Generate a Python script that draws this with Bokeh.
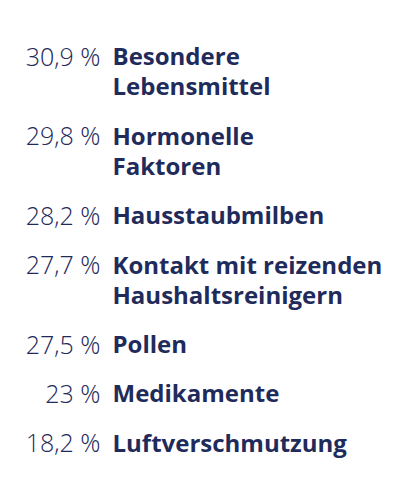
from bokeh.plotting import figure
from bokeh.models import ColumnDataSource, Range1d
from bokeh.core.properties import value
from bokeh.embed import file_html
from bokeh.resources import INLINE

# Anteile in Prozent und die zugehoerigen Ausloeser
werte = [30.9, 29.8, 28.2, 27.7, 27.5, 23, 18.2]
ausloeser = [
    ["Besondere", "Lebensmittel"],
    ["Hormonelle", "Faktoren"],
    ["Hausstaubmilben"],
    ["Kontakt mit reizenden", "Haushaltsreinigern"],
    ["Pollen"],
    ["Medikamente"],
    ["Luftverschmutzung"],
]

farbe = "#1f2b5b"
W, H = 392, 484

# Layout (Pixel auf der Seite)
start = 55      # Grundlinie erste Zeile
abstand = 49.3  # Abstand zwischen Eintraegen
zeile = 30.3    # Zeilenabstand innerhalb eines Eintrags


def fmt(v):
    s = ("%.1f" % v).replace(".", ",")
    if s.endswith(",0"):
        s = s[:-2]
    return s + " %"


pct_x, pct_y, pct_t = [], [], []
lab_x, lab_y, lab_t = [], [], []
y = start
for v, lines in zip(werte, ausloeser):
    pct_x.append(100)
    pct_y.append(y)
    pct_t.append(fmt(v))
    for i, line in enumerate(lines):
        lab_x.append(112)
        lab_y.append(y + i * zeile)
        lab_t.append(line)
    y += abstand + zeile * (len(lines) - 1)

p = figure(width=W, height=H, output_backend="svg", toolbar_location=None,
           x_range=Range1d(0, W), y_range=Range1d(H, 0),
           min_border=0)
p.axis.visible = False
p.grid.visible = False
p.outline_line_color = None

src_p = ColumnDataSource(dict(x=pct_x, y=pct_y, t=pct_t))
src_l = ColumnDataSource(dict(x=lab_x, y=lab_y, t=lab_t))

p.text(x="x", y="y", text="t", source=src_p, text_align="right",
       text_baseline="alphabetic", text_color=farbe, text_font_size="25px",
       text_font=value("Open Sans Light, Open Sans"))
p.text(x="x", y="y", text="t", source=src_l, text_align="left",
       text_baseline="alphabetic", text_color=farbe, text_font_size="24px",
       text_font=value("Open Sans"), text_font_style="bold")

open("out.html", "w").write(file_html(p, INLINE))
